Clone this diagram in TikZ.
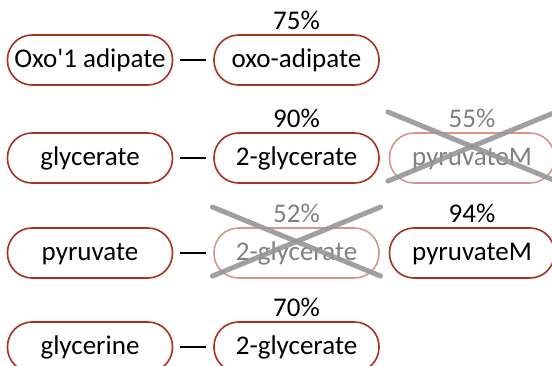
\documentclass[tikz,border=0pt]{standalone}
\usepackage{fontspec}
\newfontfamily\nodefont{Carlito}[Ligatures=TeXOff]
\usetikzlibrary{calc}

\definecolor{boxred}{RGB}{168,48,28}
\definecolor{fadered}{RGB}{216,150,135}
\definecolor{fadetext}{RGB}{128,128,128}
\definecolor{crossgray}{RGB}{150,150,150}

\tikzset{
  compound/.style={draw=boxred, line width=1.6pt, rounded corners=24.5pt,
    minimum width=165pt, minimum height=50pt, inner sep=0pt,
    text height=20pt, text depth=6pt,
    font=\nodefont\fontsize{27}{30}\selectfont, text=black},
  faded/.style={compound, draw=fadered, text=fadetext},
  pct/.style={anchor=base, inner sep=0pt,
    font=\nodefont\fontsize{27}{30}\selectfont, text=black},
  fadedpct/.style={pct, text=fadetext},
  link/.style={draw=black, line width=1.4pt, shorten <=7pt, shorten >=7pt},
  strike/.style={draw=crossgray, line width=5pt, line cap=round, opacity=0.9}
}

\begin{document}
\begin{tikzpicture}[x=1pt,y=1pt]
  \clip (0,-365) rectangle (552,0);
  \useasboundingbox (0,-365) rectangle (552,0);

  % left column: substrates
  \node[compound] (s1) at (90,-60)  {Oxo'1 adipate};
  \node[compound] (s2) at (90,-158) {glycerate};
  \node[compound] (s3) at (90,-253) {pyruvate};
  \node[compound] (s4) at (90,-347) {glycerine};

  % middle column: products
  \node[compound] (p1) at (296.5,-60)  {oxo-adipate};
  \node[compound] (p2) at (296.5,-158) {2-glycerate};
  \node[faded]    (p3) at (296.5,-253) {2-glycerate};
  \node[compound] (p4) at (296.5,-347) {2-glycerate};

  % right column: alternatives
  \node[faded]    (q2) at (472,-158) {pyruvateM};
  \node[compound] (q3) at (472,-253) {pyruvateM};

  % percentages above the products
  \node[pct]      (l1) at ([yshift=5pt]p1.north) {75\%};
  \node[pct]      (l2) at ([yshift=5pt]p2.north) {90\%};
  \node[fadedpct] (l3) at ([yshift=5pt]p3.north) {52\%};
  \node[pct]      (l4) at ([yshift=5pt]p4.north) {70\%};
  \node[fadedpct] (m2) at ([yshift=5pt]q2.north) {55\%};
  \node[pct]      (m3) at ([yshift=5pt]q3.north) {94\%};

  % links
  \draw[link] (s1) -- (p1);
  \draw[link] (s2) -- (p2);
  \draw[link] (s3) -- (p3);
  \draw[link] (s4) -- (p4);

  % rejected results are crossed out
  \foreach \n in {q2,p3}{
    \draw[strike] ($(\n.center)+(-84,46)$) -- ($(\n.center)+(84,-23)$);
    \draw[strike] ($(\n.center)+(-84,-23)$) -- ($(\n.center)+(84,46)$);
  }
\end{tikzpicture}
\end{document}
